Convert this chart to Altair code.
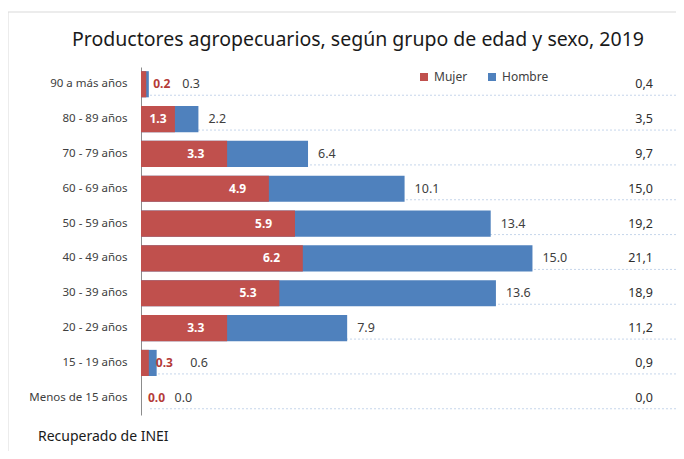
import altair as alt
import pandas as pd

grupos = ["90 a más años", "80 - 89 años", "70 - 79 años", "60 - 69 años", "50 - 59 años",
          "40 - 49 años", "30 - 39 años", "20 - 29 años", "15 - 19 años", "Menos de 15 años"]
mujer = [0.2, 1.3, 3.3, 4.9, 5.9, 6.2, 5.3, 3.3, 0.3, 0.0]
hombre = [0.3, 2.2, 6.4, 10.1, 13.4, 15.0, 13.6, 7.9, 0.6, 0.0]
total = [0.4, 3.5, 9.7, 15.0, 19.2, 21.1, 18.9, 11.2, 0.9, 0.0]

titulo = "Productores agropecuarios, según grupo de edad y sexo, 2019"
fuente = "Recuperado de INEI"

FONT = "Noto Sans"
RED = "#C0504D"
BLUE = "#4F81BD"

wide = pd.DataFrame({"grupo": grupos, "mujer": mujer, "hombre": hombre, "total": total})
long = pd.DataFrame({
    "grupo": grupos + grupos,
    "sexo": ["Hombre"] * len(grupos) + ["Mujer"] * len(grupos),
    "valor": hombre + mujer,
    "z": [0] * len(grupos) + [1] * len(grupos),
})

W, H = 535, 348

yenc = alt.Y("grupo:N", sort=grupos,
             scale=alt.Scale(paddingInner=0.25, paddingOuter=0.12),
             axis=alt.Axis(title=None, ticks=False, labelPadding=14, labelFontSize=11.5,
                           labelColor="#404040", labelFont=FONT, domainColor="#8c8c8c"))
xscale = alt.Scale(domain=[0, 20.5], nice=False, zero=True)

base = alt.Chart(wide)

grid = base.mark_rule(color="#c6d6eb", strokeDash=[2, 2], strokeWidth=1, yOffset=11).encode(
    y=yenc, x=alt.value(9), x2=alt.value(W))

bars = alt.Chart(long).mark_bar().encode(
    y=yenc,
    x=alt.X("valor:Q", scale=xscale, axis=None, stack=None),
    color=alt.Color("sexo:N", scale=alt.Scale(domain=["Mujer", "Hombre"], range=[RED, BLUE]),
                    legend=alt.Legend(title=None, orient="none", legendX=277, legendY=4,
                                      direction="horizontal", symbolType="square",
                                      symbolSize=64, symbolStrokeWidth=0, labelFontSize=12,
                                      labelFont=FONT, labelColor="#404040", columnPadding=18)),
    order=alt.Order("z:Q"),
)

m_in = base.transform_filter("datum.mujer >= 1").transform_calculate(
    px="max(datum.mujer - 1.2, datum.mujer / 2)"
).mark_text(color="white", fontWeight="bold", fontSize=12, font=FONT, align="center").encode(
    y=yenc, x=alt.X("px:Q", scale=xscale), text=alt.Text("mujer:Q", format=".1f"))

m_out = base.transform_filter("datum.mujer < 1").mark_text(
    color="#B53B38", fontWeight="bold", fontSize=12, font=FONT, align="left", dx=7).encode(
    y=yenc, x=alt.X("mujer:Q", scale=xscale), text=alt.Text("mujer:Q", format=".1f"))

h_lab = base.transform_calculate(
    px="datum.hombre + (datum.mujer < 1 ? 0.9 : 0)"
).mark_text(color="#404040", fontSize=12.5, font=FONT, align="left", dx=10).encode(
    y=yenc, x=alt.X("px:Q", scale=xscale), text=alt.Text("hombre:Q", format=".1f"))

tot = base.transform_calculate(
    t="replace(format(datum.total, '.1f'), '.', ',')"
).mark_text(color="#2e2e2e", fontSize=12.5, font=FONT, align="right").encode(
    y=yenc, x=alt.value(512), text="t:N")

title = alt.Chart(pd.DataFrame({"t": [titulo]})).mark_text(
    fontSize=19.5, font=FONT, color="#1a1a1a", align="center", baseline="middle").encode(
    x=alt.value(217), y=alt.value(-27), text="t:N")

src = alt.Chart(pd.DataFrame({"t": [fuente]})).mark_text(
    fontSize=14, font=FONT, color="#1a1a1a", align="left", baseline="middle").encode(
    x=alt.value(-103), y=alt.value(370), text="t:N")

frame_top = alt.Chart(pd.DataFrame({"a": [0]})).mark_rule(color="#d9d9d9").encode(
    x=alt.value(-133), x2=alt.value(W), y=alt.value(-55))
frame_left = alt.Chart(pd.DataFrame({"a": [0]})).mark_rule(color="#d9d9d9").encode(
    x=alt.value(-133), y=alt.value(-55), y2=alt.value(390))

chart = alt.layer(frame_top, frame_left, grid, bars, m_in, m_out, h_lab, tot, title, src).properties(
    width=W, height=H,
    autosize=alt.AutoSizeParams(type="none"),
    padding={"left": 133, "top": 59, "right": 0, "bottom": 36},
    background="white",
).configure_view(stroke=None)

chart.save("out.html", embed_options={"renderer": "svg", "actions": False})
